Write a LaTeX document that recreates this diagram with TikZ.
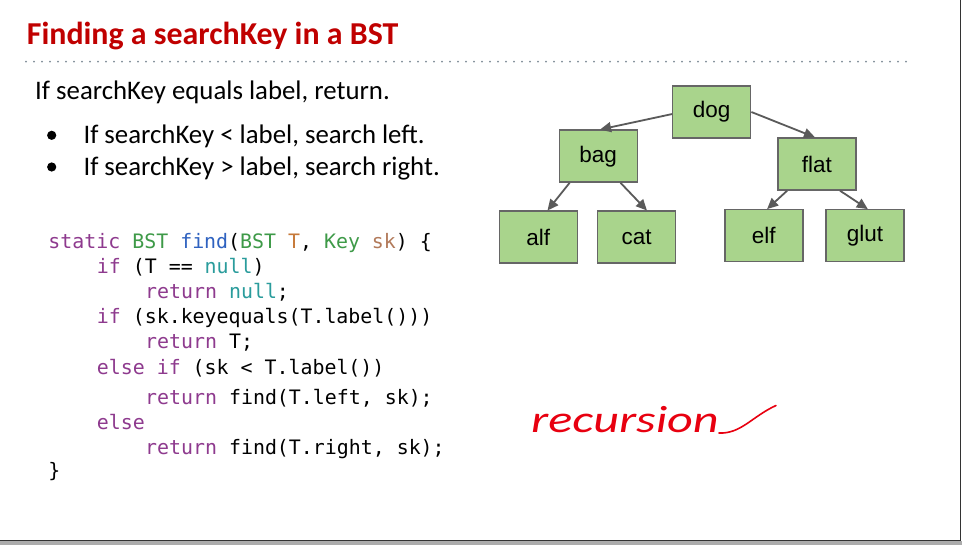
\documentclass[tikz,border=0pt]{standalone}
\usepackage{fontspec}
\setmainfont{Carlito}
\setmonofont{DejaVu Sans Mono}
\newfontfamily\nodefont{Liberation Sans}
\usetikzlibrary{arrows.meta}
\definecolor{titlered}{HTML}{C00000}
\definecolor{nodefill}{HTML}{A9D48C}
\definecolor{nodeline}{HTML}{666666}
\definecolor{arrowcol}{HTML}{5A5A5A}
\definecolor{dotcol}{HTML}{7D8A96}
\definecolor{kw}{HTML}{8E3A8E}
\definecolor{ty}{HTML}{3E9A48}
\definecolor{fn}{HTML}{2F62C0}
\definecolor{pa}{HTML}{C77A3A}
\definecolor{pb}{HTML}{B27A5A}
\definecolor{nl}{HTML}{2A9C9C}
\definecolor{inkred}{HTML}{E80010}
\tikzset{
  treenode/.style={draw=nodeline, line width=1.4pt, fill=nodefill, minimum width=78pt, minimum height=52pt, inner sep=0pt, font=\nodefont\fontsize{22.5}{26}\selectfont},
  treearrow/.style={draw=arrowcol, line width=1.8pt, -{Triangle[length=11pt,width=10pt]}},
  codeline/.style={anchor=base west, inner sep=0pt, font=\ttfamily\fontsize{19.9}{23}\selectfont},
  bodytext/.style={anchor=base west, inner sep=0pt, font=\fontsize{26.8}{30}\selectfont},
  titletext/.style={anchor=base west, inner sep=0pt, text=titlered, font=\bfseries\fontsize{31.9}{36}\selectfont}
}
\begin{document}
\begin{tikzpicture}[x=1pt,y=-1pt]
\useasboundingbox (0,0) rectangle (962,545);
\fill[white] (0,0) rectangle (962,545);
% frame
\fill[gray!65] (0,541.3) rectangle (962,545);
\draw[gray!40!black, line width=1.5pt] (960.3,0) -- (960.3,540.5) -- (0,540.5);
% title
\node[titletext] (title) at (26.7,45) {Finding a searchKey in a BST};
\draw[dotcol, line width=2pt, dash pattern=on 0pt off 8pt, line cap=round] (26,61.7) -- (907,61.7);
% body
\node[bodytext] (l1) at (35,100) {If searchKey equals label, return.};
\fill (51.7,135.3) circle (4.6pt);
\fill (51.7,167) circle (4.6pt);
\node[bodytext] (l2) at (83.3,143.5) {If searchKey < label, search left.};
\node[bodytext] (l3) at (83.3,175.5) {If searchKey > label, search right.};
% code
\node[codeline] (c1) at (48.3,248.3) {\textcolor{kw}{static} \textcolor{ty}{BST} \textcolor{fn}{find}(\textcolor{ty}{BST} \textcolor{pa}{T}, \textcolor{ty}{Key} \textcolor{pb}{sk}) \{};
\node[codeline] (c2) at (96.7,274) {\textcolor{kw}{if} (T == \textcolor{nl}{null})};
\node[codeline] (c3) at (145,298.3) {\textcolor{kw}{return} \textcolor{nl}{null};};
\node[codeline] (c4) at (96.7,323.3) {\textcolor{kw}{if} (sk.keyequals(T.label()))};
\node[codeline] (c5) at (145,348.3) {\textcolor{kw}{return} T;};
\node[codeline] (c6) at (96.7,375) {\textcolor{kw}{else if} (sk < T.label())};
\node[codeline] (c7) at (145,405) {\textcolor{kw}{return} find(T.left, sk);};
\node[codeline] (c8) at (96.7,430) {\textcolor{kw}{else}};
\node[codeline] (c9) at (145,455) {\textcolor{kw}{return} find(T.right, sk);};
\node[codeline] (c10) at (48.3,478) {\}};
% tree
\node[treenode] (dog)  at (711.7,112) {dog};
\node[treenode] (bag)  at (598.2,156.2) {bag};
\node[treenode] (flat) at (816.8,164) {flat};
\node[treenode] (alf)  at (538.3,237.2) {alf};
\node[treenode] (cat)  at (636.7,237.2) {cat};
\node[treenode] (elf)  at (763.8,235.8) {elf};
\node[treenode] (glut) at (865,235.8) {glut};
\draw[treearrow] (dog.183) -- (bag.86);
\draw[treearrow] (dog.east) -- (flat.94);
\draw[treearrow] (bag.223) -- (alf.71);
\draw[treearrow] (bag.310) -- (cat.69);
\draw[treearrow] (flat.222) -- (elf.83);
\draw[treearrow] (flat.311) -- (glut.84);
% handwriting
\node[anchor=base west, inner sep=0pt, text=inkred, font=\fontsize{38}{38}\selectfont\itshape] (hw) at (531,433) {\scalebox{1.32}[1]{recursion}};
\coordinate (tailend) at (776,405.5);
\draw[inkred, line width=1.6pt, line cap=round] (hw.base east) .. controls +(22,1) and +(-24,11) .. (tailend);
\end{tikzpicture}
\end{document}
